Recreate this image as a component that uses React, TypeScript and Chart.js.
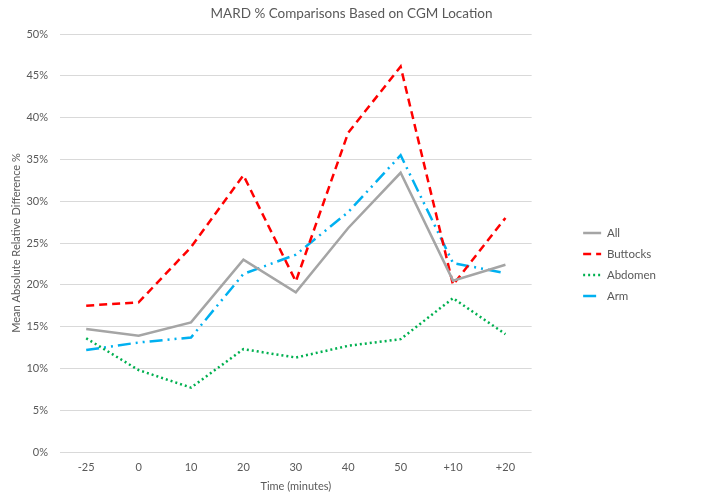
import React, { useEffect, useRef } from "react";
import { Chart, registerables } from "chart.js";

Chart.register(...registerables);

const timeLabels = ["-25", "0", "10", "20", "30", "40", "50", "+10", "+20"];
const allValues = [14.7, 13.9, 15.5, 23.0, 19.1, 26.8, 33.4, 20.5, 22.4];
const buttocksValues = [17.5, 17.9, 24.5, 33.1, 20.4, 38.2, 46.1, 20.0, 28.0];
const abdomenValues = [13.6, 9.8, 7.7, 12.3, 11.3, 12.7, 13.5, 18.4, 14.1];
const armValues = [12.2, 13.1, 13.7, 21.3, 23.6, 28.7, 35.5, 22.6, 21.4];

const FONT = "Lato, 'Open Sans', sans-serif";
const TEXT = "#595959";

const layoutTweaks = {
  id: "layoutTweaks",
  afterLayout(chart: any) {
    const l = chart.legend;
    if (l) {
      const dx = chart.chartArea.right + 42 - l.left;
      l.left += dx;
      l.right += dx;
      l.top += 14;
      l.bottom += 14;
    }
    const t = chart.titleBlock;
    if (t) {
      t.left = 0;
      t.right = chart.width;
      t.width = chart.width;
    }
  },
};

export default function App() {
  const ref = useRef<HTMLCanvasElement | null>(null);
  useEffect(() => {
    if (!ref.current) return;
    const chart = new Chart(ref.current, {
      type: "line",
      data: {
        labels: timeLabels,
        datasets: [
          {
            label: "All",
            data: allValues,
            borderColor: "#A5A5A5",
            backgroundColor: "#A5A5A5",
            borderWidth: 2.5,
            pointRadius: 0,
            tension: 0,
          },
          {
            label: "Buttocks",
            data: buttocksValues,
            borderColor: "#FF0000",
            backgroundColor: "#FF0000",
            borderWidth: 2.5,
            borderDash: [8, 5],
            pointRadius: 0,
            tension: 0,
          },
          {
            label: "Abdomen",
            data: abdomenValues,
            borderColor: "#00B050",
            backgroundColor: "#00B050",
            borderWidth: 2.5,
            borderDash: [2, 3],
            pointRadius: 0,
            tension: 0,
          },
          {
            label: "Arm",
            data: armValues,
            borderColor: "#00B0F0",
            backgroundColor: "#00B0F0",
            borderWidth: 2.5,
            borderDash: [13, 5, 2, 5, 2, 5],
            pointRadius: 0,
            tension: 0,
          },
        ],
      },
      options: {
        animation: false,
        responsive: true,
        maintainAspectRatio: false,
        layout: { padding: { left: 0, right: 71, top: 0, bottom: 0 } },
        plugins: {
          title: {
            display: true,
            text: "MARD % Comparisons Based on CGM Location",
            color: TEXT,
            font: { family: FONT, size: 13.5, weight: "normal", lineHeight: 0.8 },
            padding: { top: 0, bottom: 15.2 },
          },
          legend: {
            position: "right",
            labels: {
              usePointStyle: true,
              pointStyle: "line",
              pointStyleWidth: 18,
              color: TEXT,
              font: { family: FONT, size: 11.5 },
              padding: 9.5,
              generateLabels(chart: any) {
                const items = Chart.defaults.plugins.legend.labels.generateLabels(chart);
                items.forEach((it: any) => {
                  const ds: any = chart.data.datasets[it.datasetIndex];
                  it.lineDash = ds.borderDash || [];
                  it.lineWidth = ds.borderWidth;
                  it.strokeStyle = ds.borderColor;
                  it.fillStyle = ds.borderColor;
                  it.pointStyle = "line";
                });
                return items;
              },
            },
          },
          tooltip: { enabled: false },
        },
        scales: {
          x: {
            offset: true,
            grid: { display: false, drawTicks: false },
            border: { display: false },
            ticks: { color: TEXT, font: { family: FONT, size: 11 }, padding: 9 },
            title: {
              display: true,
              text: "Time (minutes)",
              color: TEXT,
              font: { family: FONT, size: 11 },
              padding: { top: 0, bottom: 0 },
            },
            afterFit(scale: any) {
              scale.height = 41;
            },
          },
          y: {
            min: 0,
            max: 50,
            grid: { color: "#D9D9D9", lineWidth: 1, drawTicks: false },
            border: { display: false },
            ticks: {
              stepSize: 5,
              color: TEXT,
              font: { family: FONT, size: 11 },
              padding: 12,
              callback: (v: any) => v + "%",
            },
            title: {
              display: true,
              text: "Mean Absolute Relative Difference %",
              color: TEXT,
              font: { family: FONT, size: 11 },
              padding: { top: 2, bottom: 0 },
            },
            afterFit(scale: any) {
              scale.width = 52;
            },
          },
        },
      },
      plugins: [layoutTweaks],
    });
    return () => chart.destroy();
  }, []);
  return (
    <div style={{ width: 687, height: 485, position: "relative" }}>
      <canvas ref={ref} />
    </div>
  );
}
